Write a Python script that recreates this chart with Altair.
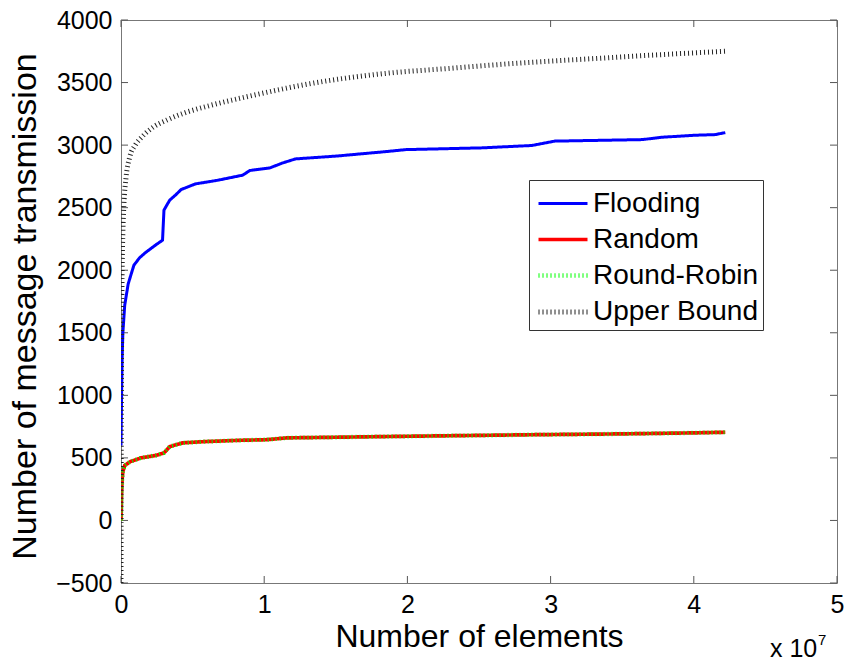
import altair as alt
import pandas as pd

# x values are in units of 1e7 elements
flood_x = [0, 0.004, 0.008, 0.013, 0.026, 0.05, 0.09, 0.13, 0.17, 0.24, 0.29, 0.30, 0.34, 0.38, 0.42,
           0.52, 0.68, 0.85, 0.90, 1.04, 1.13, 1.22, 1.50, 1.83, 1.99, 2.52, 2.87, 3.03, 3.64, 3.78,
           4.01, 4.15, 4.22]
flood_y = [600, 1000, 1300, 1500, 1720, 1890, 2040, 2100, 2140, 2200, 2240, 2480, 2560, 2600, 2645,
           2690, 2720, 2760, 2797, 2818, 2858, 2890, 2912, 2946, 2964, 2978, 2997, 3032, 3044, 3063,
           3079, 3084, 3100]

rand_x = [0, 0.003, 0.008, 0.013, 0.026, 0.065, 0.14, 0.245, 0.30, 0.34, 0.43, 0.58, 0.84, 1.01,
          1.16, 1.5, 1.94, 2.86, 3.5, 4.0, 4.22]
rand_y = [0, 200, 330, 390, 440, 470, 500, 520, 540, 590, 620, 630, 641, 645,
          660, 665, 672, 685, 692, 700, 705]

rr_x = rand_x
rr_y = rand_y

ub_x = [0, 0.0015, 0.004, 0.008, 0.013, 0.02, 0.035, 0.06, 0.1, 0.15, 0.22, 0.32, 0.45, 0.6, 0.9,
        1.36, 1.83, 2.29, 2.76, 3.22, 3.69, 4.22]
ub_y = [-500, 500, 1400, 2000, 2300, 2520, 2740, 2900, 3000, 3070, 3140, 3200, 3260, 3310, 3392,
        3499, 3571, 3613, 3654, 3686, 3718, 3750]

series = ["Flooding", "Random", "Round-Robin", "Upper Bound"]
colors = ["#0000ff", "#ff0000", "#00ff00", "#222222"]
dashes = [[1, 0], [1, 0], [1, 3], [1, 3]]
widths = [3, 5, 7, 3]

x_ticks = [0, 1, 2, 3, 4, 5]
y_ticks = [-500, 0, 500, 1000, 1500, 2000, 2500, 3000, 3500, 4000]

W, H = 716, 563
FONT = "Liberation Sans"

frames = []
for name, xs, ys in [("Flooding", flood_x, flood_y), ("Random", rand_x, rand_y),
                     ("Round-Robin", rr_x, rr_y), ("Upper Bound", ub_x, ub_y)]:
    frames.append(pd.DataFrame({"x": xs, "y": ys, "series": name, "idx": range(len(xs))}))
df = pd.concat(frames, ignore_index=True)

xscale = alt.Scale(domain=[0, 5], nice=False, zero=False)
yscale = alt.Scale(domain=[-500, 4000], nice=False, zero=False)

xaxis = alt.Axis(values=x_ticks, format="d", title="Number of elements", grid=False, tickSize=0,
                 domain=False, labelFontSize=25, labelFont=FONT, labelColor="black", labelPadding=9,
                 titleFontSize=32, titleFont=FONT, titleFontWeight="normal", titleColor="black",
                 titleBaseline="alphabetic", titleY=63, labelFlush=False)
yaxis = alt.Axis(values=y_ticks, format="d", title="Number of message transmission", grid=False,
                 tickSize=0, domain=False, labelFontSize=25, labelFont=FONT, labelColor="black",
                 labelPadding=9, titleFontSize=34, titleFont=FONT, titleFontWeight="normal",
                 titleColor="black", titleBaseline="alphabetic", titleX=-86, titleY=286,
                 labelFlush=False)

legend = alt.Legend(orient="none", legendX=408, legendY=160, title=None,
                    symbolType="M-0.833,0H1.889", symbolSize=1296, labelFontSize=28, labelFont=FONT,
                    labelColor="black", labelOffset=19, labelLimit=400, rowPadding=1.5, padding=4,
                    strokeColor="#333333", fillColor="white", cornerRadius=0,
                    symbolStrokeWidth=3, symbolFillColor="transparent")

color = alt.Color("series:N", scale=alt.Scale(domain=series, range=colors), legend=legend)
dash = alt.StrokeDash("series:N", scale=alt.Scale(domain=series, range=dashes), legend=legend)
sw = alt.StrokeWidth("series:N", scale=alt.Scale(domain=series, range=widths), legend=legend)

base = alt.Chart(df)
layers = []
for name in series:
    interp = "monotone" if name == "Upper Bound" else "linear"
    layers.append(
        base.transform_filter(alt.datum.series == name)
        .mark_line(interpolate=interp, strokeCap="butt", clip=True)
        .encode(x=alt.X("x:Q", scale=xscale, axis=xaxis),
                y=alt.Y("y:Q", scale=yscale, axis=yaxis),
                color=color, strokeDash=dash, strokeWidth=sw, order="idx:Q")
    )

xt = pd.DataFrame({"t": x_ticks})
yt = pd.DataFrame({"t": y_ticks})
tick_color = "#555555"
ticks = [
    alt.Chart(xt).mark_rule(color=tick_color, strokeWidth=1).encode(
        x=alt.X("t:Q", scale=xscale), y=alt.value(H), y2=alt.value(H - 7)),
    alt.Chart(xt).mark_rule(color=tick_color, strokeWidth=1).encode(
        x=alt.X("t:Q", scale=xscale), y=alt.value(0), y2=alt.value(7)),
    alt.Chart(yt).mark_rule(color=tick_color, strokeWidth=1).encode(
        y=alt.Y("t:Q", scale=yscale), x=alt.value(0), x2=alt.value(7)),
    alt.Chart(yt).mark_rule(color=tick_color, strokeWidth=1).encode(
        y=alt.Y("t:Q", scale=yscale), x=alt.value(W), x2=alt.value(W - 7)),
]

exp_df = pd.DataFrame({"a": [1]})
exp_main = alt.Chart(exp_df).mark_text(align="left", baseline="alphabetic", fontSize=25,
                                       font=FONT, color="black").encode(
    x=alt.value(649), y=alt.value(637), text=alt.value("x 10"))
exp_sup = alt.Chart(exp_df).mark_text(align="left", baseline="alphabetic", fontSize=15,
                                      font=FONT, color="black").encode(
    x=alt.value(697), y=alt.value(625), text=alt.value("7"))

chart = alt.layer(*ticks, *layers, exp_main, exp_sup).properties(
    width=W, height=H,
    autosize=alt.AutoSizeParams(type="none"),
    padding={"left": 121, "top": 20, "right": 7, "bottom": 80},
    background="white",
).configure_view(stroke="#777777", strokeWidth=1)

chart.save("out.html", embed_options={"renderer": "svg", "actions": False})
